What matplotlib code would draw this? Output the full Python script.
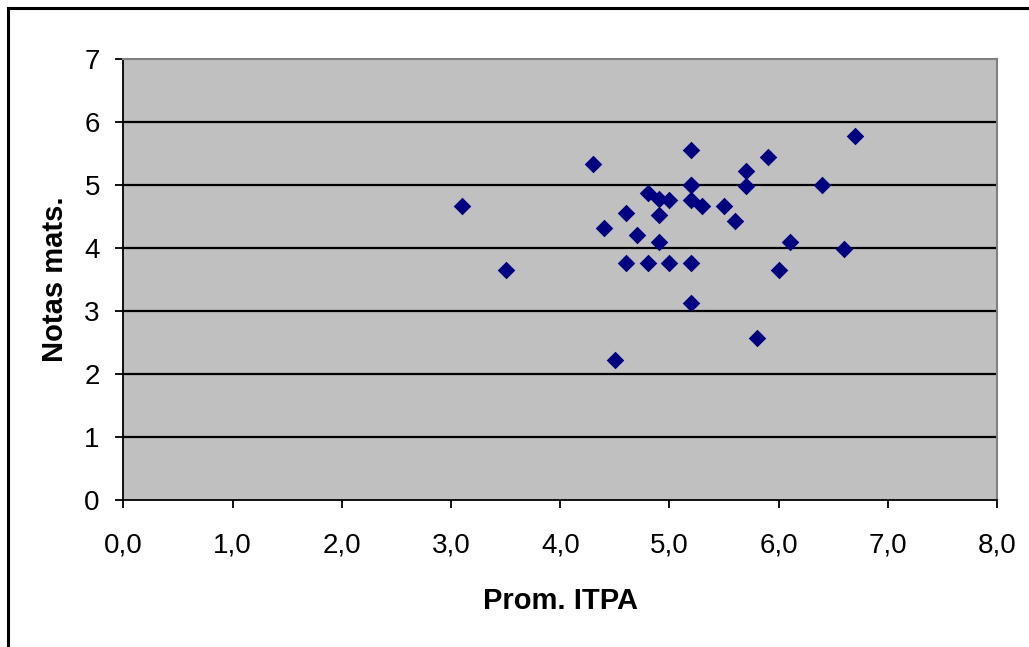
import matplotlib.pyplot as plt
from matplotlib.lines import Line2D

plt.rcParams['font.family'] = ['Liberation Sans', 'DejaVu Sans']

# Prom. ITPA vs Notas mats.
itpa = [3.1, 3.5, 4.3, 4.4, 4.5, 4.6, 4.6, 4.7, 4.8, 4.8,
        4.9, 4.9, 4.9, 5.0, 5.0, 5.2, 5.2, 5.2, 5.2, 5.2,
        5.2, 5.3, 5.5, 5.6, 5.7, 5.7, 5.8, 5.9, 6.0, 6.1,
        6.4, 6.6, 6.7]
notas = [4.66, 3.65, 5.33, 4.32, 2.23, 4.55, 3.76, 4.21, 4.88, 3.76,
         4.77, 4.53, 4.09, 4.76, 3.76, 5.55, 5.0, 4.76, 3.76, 3.13,
         5.0, 4.66, 4.66, 4.43, 5.22, 4.99, 2.57, 5.44, 3.65, 4.10,
         5.0, 3.98, 5.77]

xticks = [0, 1, 2, 3, 4, 5, 6, 7, 8]
yticks = [0, 1, 2, 3, 4, 5, 6, 7]

fig = plt.figure(figsize=(10.29, 6.47), dpi=100)
ax = fig.add_axes([0.120, 0.227, 0.849, 0.682])
ax.set_facecolor('#c0c0c0')

for v in yticks[1:-1]:
    ax.axhline(v, color='black', lw=1.6, zorder=1)

ax.scatter(itpa, notas, marker='D', s=80, color='#000080', zorder=3, linewidths=0)

ax.set_xlim(0, 8)
ax.set_ylim(0, 7)
ax.set_xticks(xticks)
ax.set_xticklabels(['%d,0' % v for v in xticks])
ax.set_yticks(yticks)
ax.tick_params(axis='both', labelsize=20, direction='out', length=6, width=1.3, colors='black')
ax.tick_params(axis='x', pad=17)
ax.tick_params(axis='y', pad=11)

ax.spines['left'].set_color('black')
ax.spines['bottom'].set_color('black')
ax.spines['left'].set_linewidth(1.3)
ax.spines['bottom'].set_linewidth(1.3)
ax.spines['top'].set_color('#808080')
ax.spines['right'].set_color('#808080')
ax.spines['top'].set_linewidth(1.5)
ax.spines['right'].set_linewidth(1.5)

ax.set_xlabel('Prom. ITPA', fontsize=21, fontweight='bold', va='center')
ax.set_ylabel('Notas mats.', fontsize=21, fontweight='bold', va='center')
ax.xaxis.set_label_coords(0.5, -0.228)
ax.yaxis.set_label_coords(-0.0784, 0.5)

# outer chart border (top and left only visible)
fig.add_artist(Line2D([8 / 1029, 1.0], [1 - 8 / 647, 1 - 8 / 647], color='black', lw=2.2,
                      transform=fig.transFigure))
fig.add_artist(Line2D([8 / 1029, 8 / 1029], [0, 1 - 8 / 647], color='black', lw=2.2,
                      transform=fig.transFigure))

fig.savefig('out.png', dpi=100)
